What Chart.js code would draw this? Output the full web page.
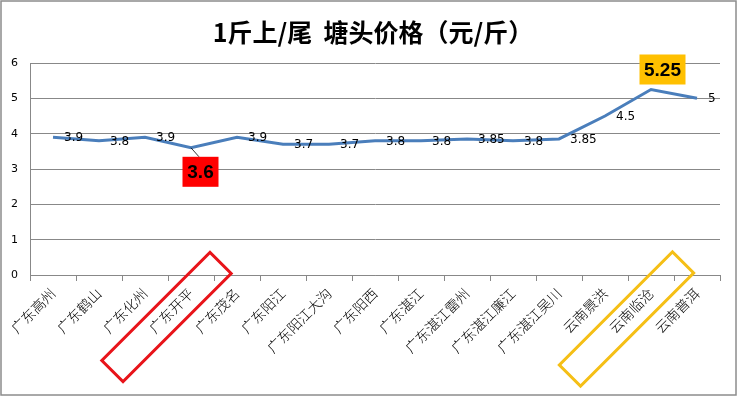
<!DOCTYPE html>
<html>
<head>
<meta charset="utf-8">
<script src="https://cdn.jsdelivr.net/npm/chart.js@4/dist/chart.umd.min.js"></script>
<style>
  body { margin: 0; background: #fff; }
  #chart { display: block; }
</style>
</head>
<body>
<canvas id="chart" width="738" height="397"></canvas>
<script>
const categories = ["广东高州", "广东鹤山", "广东化州", "广东开平", "广东茂名", "广东阳江", "广东阳江大沟", "广东阳西",
    "广东湛江", "广东湛江雷州", "广东湛江廉江", "广东湛江吴川", "云南景洪", "云南临沧", "云南普洱"];
const prices = [3.9, 3.8, 3.9, 3.6, 3.9, 3.7, 3.7, 3.8, 3.8, 3.85, 3.8, 3.85, 4.5, 5.25, 5];
const yTicks = [0, 1, 2, 3, 4, 5, 6];
const titleText = '1斤上/尾  塘头价格（元/斤）';
const lowIndex = 3;
const highIndex = 13;

const cjk = '"Noto Sans CJK SC", sans-serif';
const latin = '"DejaVu Sans", sans-serif';

function box(ctx, cx, cy, w, h, fill, text){
    ctx.fillStyle = fill;
    ctx.fillRect(cx - w / 2, cy - h / 2, w, h);
    ctx.fillStyle = '#000';
    ctx.font = 'bold 19px "Liberation Sans", sans-serif';
    ctx.textAlign = 'center';
    ctx.textBaseline = 'middle';
    ctx.fillText(text, cx, cy + 1);
}

function tiltedRect(ctx, cx, cy, len, wid, color){
    ctx.save();
    ctx.translate(cx, cy);
    ctx.rotate(-Math.PI / 4);
    ctx.strokeStyle = color;
    ctx.lineWidth = 3;
    ctx.strokeRect(-len / 2, -wid / 2, len, wid);
    ctx.restore();
}

const decorations = {
    id: 'decorations',
    afterDatasetsDraw(chart){
        const ctx = chart.ctx;
        const pts = chart.getDatasetMeta(0).data;
        ctx.save();

        // title, drawn by hand so it can sit a bit right of centre like the original
        ctx.font = 'bold 25px ' + cjk;
        ctx.fillStyle = '#000';
        ctx.textAlign = 'center';
        ctx.textBaseline = 'middle';
        ctx.fillText(titleText, 373, 32);

        ctx.font = '12px ' + latin;
        ctx.textAlign = 'left';
        pts.forEach((pt, i) => {
            if (i === lowIndex || i === highIndex) return;
            ctx.fillText(String(prices[i]), pt.x + 11, pt.y + 1);
        });

        const low = pts[lowIndex];
        ctx.strokeStyle = '#000';
        ctx.lineWidth = 0.8;
        ctx.beginPath();
        ctx.moveTo(low.x, low.y);
        ctx.lineTo(low.x + 8, low.y + 9);
        ctx.stroke();
        box(ctx, low.x + 9.5, low.y + 24, 36, 30, '#ff0000', String(prices[lowIndex]));

        const high = pts[highIndex];
        box(ctx, high.x + 11.5, high.y - 20, 46, 30, '#ffc000', String(prices[highIndex]));

        const xs = chart.scales.x;
        tiltedRect(ctx, xs.getPixelForValue(lowIndex) - 24.5, chart.chartArea.bottom + 42, 153, 30, '#e8141a');
        tiltedRect(ctx, xs.getPixelForValue(highIndex) - 24.5, chart.chartArea.bottom + 44, 160, 30, '#f5bf16');

        ctx.strokeStyle = '#8c8c8c';
        ctx.lineWidth = 1.5;
        ctx.strokeRect(1, 1, 735, 394);
        ctx.restore();
    }
};

new Chart(document.getElementById('chart'), {
    type: 'line',
    data: {
        labels: categories,
        datasets: [{
            data: prices,
            borderColor: '#4a7ebb',
            borderWidth: 3,
            pointRadius: 0,
            tension: 0,
            fill: false,
        }],
    },
    options: {
        responsive: false,
        animation: false,
        layout: { padding: { left: 0, right: 18, top: 63, bottom: 0 } },
        plugins: {
            legend: { display: false },
            tooltip: { enabled: false },
            title: { display: false },
        },
        scales: {
            x: {
                offset: true,
                grid: { offset: true, drawOnChartArea: false, color: '#888', tickLength: 6 },
                border: { color: '#888', width: 1 },
                ticks: {
                    color: '#000',
                    font: { family: cjk, size: 14, weight: 300 },
                    minRotation: 45,
                    maxRotation: 45,
                    autoSkip: false,
                    padding: 4,
                },
                afterFit(scale){ scale.height = 122; },
            },
            y: {
                min: 0,
                max: 6,
                afterBuildTicks(scale){ scale.ticks = yTicks.map(v => ({ value: v })); },
                grid: { color: '#888', drawTicks: false },
                border: { color: '#888', width: 1 },
                ticks: {
                    color: '#000',
                    font: { family: latin, size: 11 },
                    padding: 12,
                },
                afterFit(scale){ scale.width = 30; },
            },
        },
    },
    plugins: [decorations],
});
</script>
</body>
</html>
